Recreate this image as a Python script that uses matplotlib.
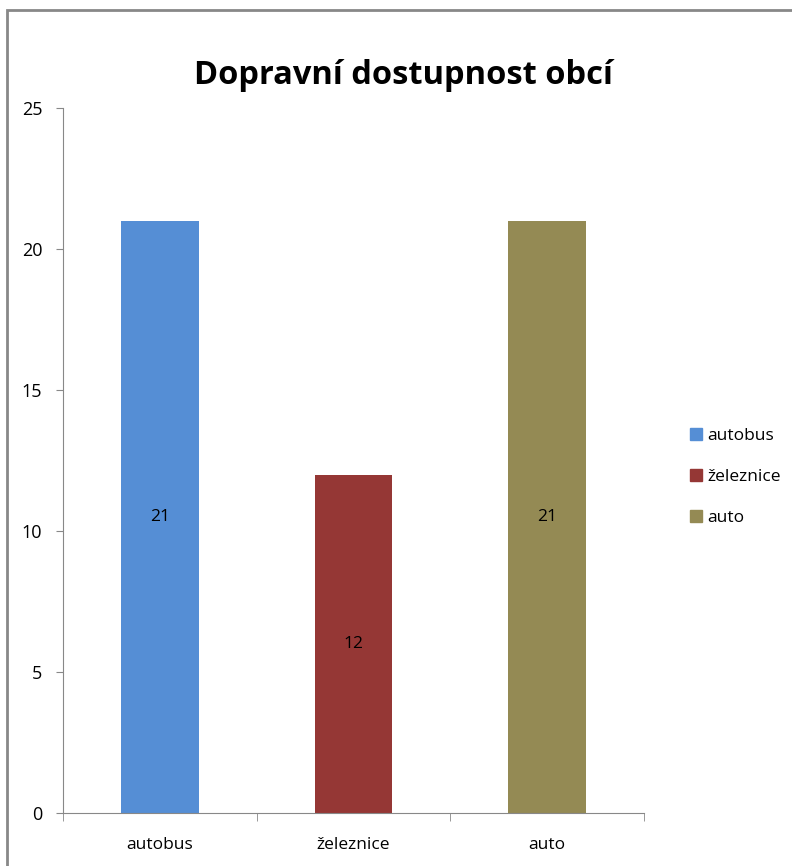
import matplotlib.pyplot as plt
from matplotlib.patches import Rectangle, Patch

categories = ["autobus", "železnice", "auto"]
values = [21, 12, 21]
colors = ["#558ed5", "#953735", "#948a54"]
title = "Dopravní dostupnost obcí"

plt.rcParams['font.family'] = ['Open Sans', 'DejaVu Sans']

fig = plt.figure(figsize=(7.92, 8.66), dpi=100)
ax = fig.add_axes([63/792, 1 - 813/866, (644 - 63)/792, (813 - 108)/866])

x = range(len(categories))
bars = ax.bar(x, values, width=0.4, color=colors)
for b, v in zip(bars, values):
    ax.text(b.get_x() + b.get_width()/2, v/2, str(v), ha='center', va='center', fontsize=12.5)

ax.set_xlim(-0.5, len(categories) - 0.5)
ax.set_ylim(0, 25)
ax.set_yticks([0, 5, 10, 15, 20, 25])
ax.set_xticks(list(x))
ax.set_xticklabels(categories, fontsize=12.5)
ax.set_xticks([-0.5, 0.5, 1.5, 2.5], minor=True)
ax.tick_params(axis='x', which='major', length=0, pad=17)
ax.tick_params(axis='x', which='minor', length=6, color='#888888', direction='out')
ax.tick_params(axis='y', length=5, color='#888888', labelsize=13, pad=10)
for s in ['top', 'right']:
    ax.spines[s].set_visible(False)
for s in ['left', 'bottom']:
    ax.spines[s].set_color('#888888')

fig.text(403/792, 1 - 76/866, title, ha='center', va='center', fontsize=23.5, fontweight='bold')

handles = [Patch(color=c) for c in colors]
fig.legend(handles, categories, loc='center left', bbox_to_anchor=(674/792, 1 - 477/866),
           frameon=False, fontsize=12.5, handlelength=0.7, handleheight=0.7,
           handletextpad=0.3, labelspacing=1.45)

fig.patches.append(Rectangle((7/792, -0.05), 1, 1.05 - 10/866, transform=fig.transFigure,
                             fill=False, edgecolor='#888888', linewidth=2, clip_on=False))

fig.savefig("out.png", dpi=100)
